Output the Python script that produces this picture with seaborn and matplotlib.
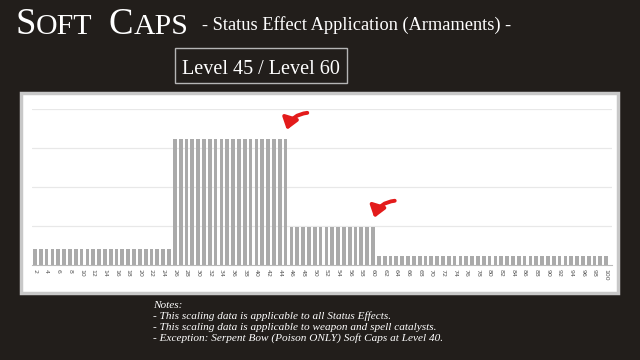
# soft caps chart - status effect application per level

import matplotlib
matplotlib.use("Agg")
import matplotlib.pyplot as plt
import matplotlib.patches as patches
import seaborn as sns
import pandas as pd

# per level gain (one gridline = 1 unit)
levels = list(range(2, 101))
gain_low = 0.40      # levels 2 - 25
gain_high = 3.22     # levels 26 - 45
gain_mid = 0.97      # levels 46 - 60
gain_tail = 0.23     # levels 61 - 100
soft_caps = [45, 60]

values = []
for lv in levels:
    if lv <= 25:
        values.append(gain_low)
    elif lv <= 45:
        values.append(gain_high)
    elif lv <= 60:
        values.append(gain_mid)
    else:
        values.append(gain_tail)

df = pd.DataFrame({"level": [str(lv) for lv in levels], "gain": values})

bg = "#221e1b"
serif = ["Liberation Serif", "DejaVu Serif"]

sns.set_theme(style="white")
plt.rcParams["font.family"] = ["DejaVu Sans"]

fig = plt.figure(figsize=(6.4, 3.6), dpi=100, facecolor=bg)

# white panel behind the chart
panel = patches.Rectangle((21 / 640, 1 - 293 / 360), 597 / 640, 200 / 360,
                          transform=fig.transFigure, facecolor="white",
                          edgecolor="#c8c8c8", linewidth=2.5, zorder=-5)
fig.patches.append(panel)

ax = fig.add_axes([32 / 640, 1 - 265 / 360, 580 / 640, (265 - 108.7) / 360])
ax.set_facecolor("none")
sns.barplot(data=df, x="level", y="gain", color="#aaaaaa", width=0.64,
            saturation=1, linewidth=0, ax=ax, zorder=3)

ax.set_xlim(-0.5, 99)
ax.set_ylim(0, 4)
ax.set_yticks([1, 2, 3, 4])
ax.yaxis.grid(True, color="#e8e8e8", linewidth=0.9, zorder=0)
ax.set_axisbelow(True)
ax.set_yticklabels([])
ax.tick_params(axis="y", length=0)
ax.set_xlabel("")
ax.set_ylabel("")

ax.set_xticks(range(0, len(levels), 2))
ax.set_xticklabels([str(lv) for lv in levels[::2]], rotation=-90,
                   fontsize=4.5, color="#555555")
ax.tick_params(axis="x", length=0, pad=3)
for s in ["top", "right", "left"]:
    ax.spines[s].set_visible(False)
ax.spines["bottom"].set_color("#bbbbbb")
ax.spines["bottom"].set_linewidth(0.8)

# red curved arrows at the soft caps
for cap in soft_caps:
    i = levels.index(cap)
    v = values[i]
    ax.annotate("", xy=(i + 0.1, v + 0.17), xytext=(i + 4.2, v + 0.68),
                arrowprops=dict(arrowstyle="-|>,head_length=0.55,head_width=0.4",
                                color="#e31b1b", lw=2.8,
                                connectionstyle="arc3,rad=0.38"),
                zorder=5, annotation_clip=False)

# title, small caps by hand
tx = 15 / 640
ty = 1 - 34 / 360
for big, small in [("S", "OFT"), ("C", "APS")]:
    t1 = fig.text(tx, ty, big, family=serif, fontsize=26.5, color="white")
    fig.canvas.draw()
    tx = t1.get_window_extent().x1 / 640
    t2 = fig.text(tx, ty, small, family=serif, fontsize=21.5, color="white")
    fig.canvas.draw()
    tx = t2.get_window_extent().x1 / 640 + 17 / 640

fig.text(202 / 640, 1 - 30 / 360, "- Status Effect Application (Armaments) -",
         family=serif, fontsize=13.2, color="white")

# level box
fig.text(261 / 640, 1 - 74 / 360, "Level 45 / Level 60", family=serif,
         fontsize=14.5, color="white", ha="center")
box = patches.Rectangle((175 / 640, 1 - 83 / 360), 172 / 640, 35 / 360,
                        transform=fig.transFigure, facecolor="none",
                        edgecolor="#b5b5b5", linewidth=1.0)
fig.patches.append(box)

notes = [
    "Notes:",
    "- This scaling data is applicable to all Status Effects.",
    "- This scaling data is applicable to weapon and spell catalysts.",
    "- Exception: Serpent Bow (Poison ONLY) Soft Caps at Level 40.",
]
for k, line in enumerate(notes):
    fig.text(153 / 640, 1 - (308.5 + k * 10.8) / 360, line, family=serif,
             style="italic", fontsize=8.1, color="white")

fig.savefig("out.png", dpi=100, facecolor=bg)
